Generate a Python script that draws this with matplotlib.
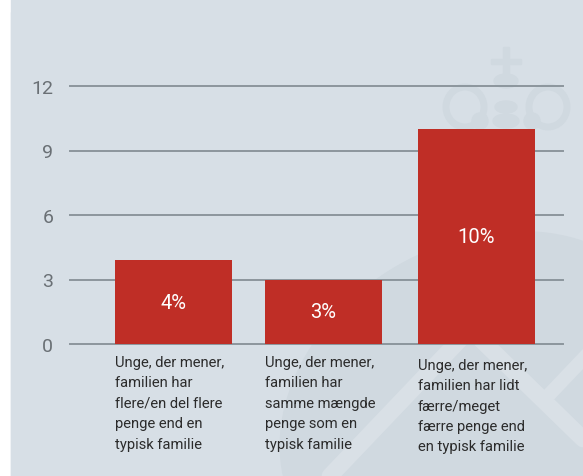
import matplotlib.pyplot as plt
from matplotlib.patches import Rectangle, Circle, Ellipse

categories = [
    "Unge, der mener,\nfamilien har\nflere/en del flere\npenge end en\ntypisk familie",
    "Unge, der mener,\nfamilien har\nsamme mængde\npenge som en\ntypisk familie",
    "Unge, der mener,\nfamilien har lidt\nfærre/meget\nfærre penge end\nen typisk familie",
]
values = [3.9, 3.0, 10.0]
bar_labels = ["4%", "3%", "10%"]
yticks = [0, 3, 6, 9, 12]

bg = "#d7dfe6"
mark = "#d0d9e0"
red = "#bf2e26"

plt.rcParams['font.family'] = ['Roboto', 'DejaVu Sans']

fig = plt.figure(figsize=(5.83, 4.77), dpi=100)

# grey panel behind the chart
fig.patches.append(Rectangle((11 / 583, 0), 1, 1 - 13 / 477,
                             transform=fig.transFigure, color=bg, zorder=0))

# faint watermark (crown + big shape lower right)
wm = fig.add_axes([0, 0, 1, 1], zorder=0.5)
wm.set_xlim(0, 583)
wm.set_ylim(477, 0)
wm.axis('off')
wm.add_patch(Rectangle((11, 0), 572, 477, color=bg))
wm.add_patch(Ellipse((480, 410), 420, 330, angle=-30, color=mark))
wm.plot([330, 470, 583], [477, 330, 440], color="#d9e0e6", lw=12,
        solid_capstyle='round')
wm.plot([545, 583], [400, 360], color="#d9e0e6", lw=10)
wm.add_patch(Rectangle((503, 48), 6, 30, color=mark))
wm.add_patch(Rectangle((491, 60), 30, 5, color=mark))
wm.add_patch(Ellipse((506, 82), 24, 14, color=mark))
wm.add_patch(Ellipse((506, 108), 22, 12, color=mark))
wm.add_patch(Ellipse((506, 122), 26, 14, color=mark))
wm.add_patch(Circle((480, 122), 8, color=mark))
wm.add_patch(Circle((532, 122), 8, color=mark))
for cx in (465, 548):
    wm.add_patch(Ellipse((cx, 108), 38, 40, fill=False, ec=mark, lw=5))
wm.set_xlim(0, 583)
wm.set_ylim(477, 0)

ax = fig.add_axes([70 / 583, 1 - 345 / 477, 493 / 583, 258 / 477], zorder=1)
ax.patch.set_alpha(0)

x = [0, 0.995, 2.01]
w = 0.775
ax.set_xlim(-0.685, 2.583)
ax.set_ylim(0, 12)

for t in yticks:
    ax.axhline(t, color="#8c969d", lw=1.4, zorder=1, clip_on=False)

ax.bar(x, values, width=w, color=red, zorder=2)

for xi, v, lab in zip(x, values, bar_labels):
    ax.text(xi, v / 2, lab, ha='center', va='center', color='white',
            fontsize=14.5, zorder=3)

for i, (xi, cat) in enumerate(zip(x, categories)):
    ax.annotate(cat, xy=(xi - w / 2, 0), xytext=(0, -8 if i < 2 else -10),
                textcoords='offset points', ha='left', va='top',
                fontsize=10.6, color='#2b2b2b', linespacing=1.58,
                annotation_clip=False)

ax.set_yticks(yticks)
ax.set_yticklabels([str(t) for t in yticks])
ax.tick_params(axis='y', length=0, pad=12, labelsize=14, labelcolor='#6a7075')
ax.set_xticks([])
for s in ax.spines.values():
    s.set_visible(False)

fig.savefig("out.png", dpi=100)
